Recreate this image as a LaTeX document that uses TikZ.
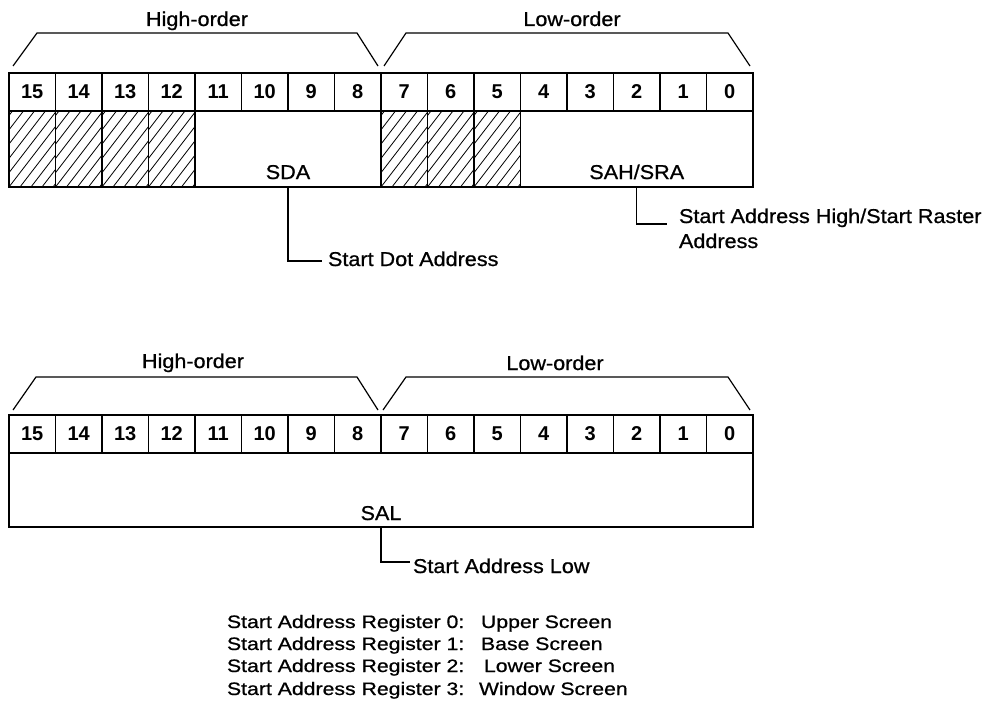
\documentclass[tikz,border=0pt]{standalone}
\usepackage{fontspec}
\setmainfont{Liberation Sans}
\newfontfamily\widefont[FakeStretch=1.08,FakeBold=0.8]{Liberation Sans}
\newfontfamily\listfont[FakeStretch=1.18,FakeBold=0.8]{Liberation Sans}
\tikzset{
  cell/.style={draw, line width=1.7pt, minimum width=46.5pt, minimum height=38pt,
    inner sep=0pt, outer sep=0pt, anchor=north west,
    font=\fontsize{20}{20}\selectfont\bfseries},
  field/.style={draw, line width=1.7pt, inner sep=0pt, outer sep=0pt, anchor=north west},
  hcell/.style={field, minimum width=46.5pt, minimum height=76pt,
    path picture={\foreach \i in {-6,...,5}
      \draw[line width=0.8pt] ([xshift=\i*11pt]path picture bounding box.south west) -- ++(60pt,78pt);}},
  lbl/.style={inner sep=0pt, outer sep=0pt, font=\widefont\fontsize{20}{22}\selectfont},
  listtxt/.style={inner sep=0pt, outer sep=0pt, anchor=base west, font=\listfont\fontsize{18}{20}\selectfont},
  bracket/.style={line width=1.2pt, line join=miter},
  leader/.style={line width=1.2pt},
}
\begin{document}
\begin{tikzpicture}[x=1pt,y=-1pt]
\useasboundingbox (0,0) rectangle (986,709);

% ---------- top register ----------
\coordinate (thl1) at (13,66); \coordinate (thl2) at (37,33);
\coordinate (thr2) at (357,33); \coordinate (thr1) at (378,66);
\coordinate (tll1) at (384,66); \coordinate (tll2) at (406,33);
\coordinate (tlr2) at (728,33); \coordinate (tlr1) at (750,66);
\draw[bracket] (thl1) -- (thl2) -- (thr2) -- (thr1);
\draw[bracket] (tll1) -- (tll2) -- (tlr2) -- (tlr1);
\node[lbl, anchor=base] (thigh) at (197,26) {High-order};
\node[lbl, anchor=base] (tlow) at (572,26) {Low-order};

\foreach \b in {15,14,13,12,7,6,5} {
  \pgfmathsetmacro\xx{9+46.5*(15-\b)}
  \node[hcell] (h\b) at (\xx,111) {};
}
\node[field, minimum width=186pt, minimum height=76pt] (sda) at (195,111) {};
\node[field, minimum width=232.5pt, minimum height=76pt] (sah) at (520.5,111) {};
\node[lbl, anchor=base] (sdatxt) at ([yshift=8pt]sda.south) {SDA};
\node[lbl, anchor=base] (sahtxt) at ([yshift=8pt]sah.south) {SAH/SRA};

\foreach \b in {0,...,15} {
  \pgfmathsetmacro\xx{9+46.5*(15-\b)}
  \node[cell] (t\b) at (\xx,73) {\b};
}

\node[lbl, anchor=base west] (sdadesc) at (328,266) {Start Dot Address};
\draw[leader] (sda.south) |- ([xshift=-6pt,yshift=5pt]sdadesc.base west);

\node[lbl, anchor=base west] (sahdesc) at (679,223) {Start Address High/Start Raster};
\node[lbl, anchor=base west] (sahdesc2) at (679,248) {Address};
\draw[leader] (sah.south) |- ([xshift=-12pt,yshift=-1pt]sahdesc.base west);

% ---------- bottom register ----------
\coordinate (bhl1) at (13,410); \coordinate (bhl2) at (36,377);
\coordinate (bhr2) at (357,377); \coordinate (bhr1) at (378,410);
\coordinate (bll1) at (383,410); \coordinate (bll2) at (406,377);
\coordinate (blr2) at (728,377); \coordinate (blr1) at (750,410);
\draw[bracket] (bhl1) -- (bhl2) -- (bhr2) -- (bhr1);
\draw[bracket] (bll1) -- (bll2) -- (blr2) -- (blr1);
\node[lbl, anchor=base] (bhigh) at (193,368) {High-order};
\node[lbl, anchor=base] (blow) at (555,370) {Low-order};

\node[field, minimum width=744pt, minimum height=74pt] (sal) at (9,453) {};
\node[lbl, anchor=base] (saltxt) at ([yshift=7pt]sal.south) {SAL};
\foreach \b in {0,...,15} {
  \pgfmathsetmacro\xx{9+46.5*(15-\b)}
  \node[cell] (b\b) at (\xx,415) {\b};
}

\node[lbl, anchor=base west] (saldesc) at (413,573) {Start Address Low};
\draw[leader] (sal.south) |- ([xshift=-3pt,yshift=11pt]saldesc.base west);

% ---------- list ----------
\node[listtxt] (r0) at (227,628) {Start Address Register 0:};
\node[listtxt] (s0) at (481,628) {Upper Screen};
\node[listtxt] (r1) at (227,650) {Start Address Register 1:};
\node[listtxt] (s1) at (481,650) {Base Screen};
\node[listtxt] (r2) at (227,672) {Start Address Register 2:};
\node[listtxt] (s2) at (484,672) {Lower Screen};
\node[listtxt] (r3) at (227,695) {Start Address Register 3:};
\node[listtxt] (s3) at (479,695) {Window Screen};
\end{tikzpicture}
\end{document}
